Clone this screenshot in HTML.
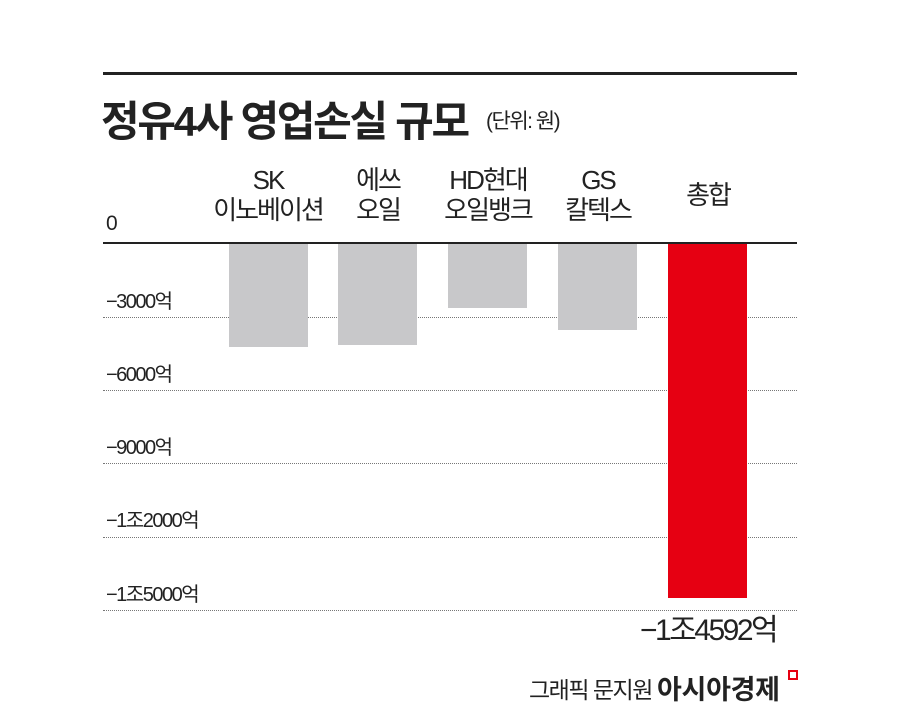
<!DOCTYPE html>
<html><head><meta charset="utf-8"><style>
body{margin:0;background:#fff;width:900px;height:720px;position:relative;overflow:hidden;font-family:"Liberation Sans","Noto Sans CJK KR",sans-serif;color:#222}
.a{position:absolute;white-space:nowrap}
.g{position:absolute;left:103px;width:694px;border-top:1px dotted #777;height:0}
.b{position:absolute;top:244px;width:79px;background:#c8c8ca}
.l{font-size:26px;letter-spacing:-2px;text-align:center;line-height:30px;width:160px}
.y{font-size:20px;letter-spacing:-1.5px;left:106px}
</style></head><body>
<div class="a" style="left:103px;top:72px;width:694px;height:3px;background:#222"></div>
<div class="a" style="left:101px;top:88px;font-size:42px;font-weight:bold;letter-spacing:-2.3px">정유4사 영업손실 규모</div>
<div class="a" style="left:486px;top:105px;font-size:21px;letter-spacing:-1.5px">(단위: 원)</div>
<div class="a l" style="left:188px;top:165px">SK<br>이노베이션</div>
<div class="a l" style="left:298px;top:165px">에쓰<br>오일</div>
<div class="a l" style="left:408px;top:165px">HD현대<br>오일뱅크</div>
<div class="a l" style="left:518px;top:165px">GS<br>칼텍스</div>
<div class="a l" style="left:628px;top:180px">총합</div>
<div class="a y" style="top:212px;font-size:21px">0</div>
<div class="a" style="left:103px;top:242px;width:694px;height:2px;background:#222"></div>
<div class="a y" style="top:285px">−3000억</div>
<div class="a y" style="top:358px">−6000억</div>
<div class="a y" style="top:431px">−9000억</div>
<div class="a y" style="top:504px">−1조2000억</div>
<div class="a y" style="top:578px">−1조5000억</div>
<div class="g" style="top:317px"></div>
<div class="g" style="top:390px"></div>
<div class="g" style="top:463px"></div>
<div class="g" style="top:537px"></div>
<div class="g" style="top:610px"></div>
<div class="b" style="left:229px;height:103px"></div>
<div class="b" style="left:338px;height:101px"></div>
<div class="b" style="left:448px;height:64px"></div>
<div class="b" style="left:558px;height:86px"></div>
<div class="b" style="left:668px;height:354px;background:#e60012"></div>
<div class="a" style="left:640px;top:605px;font-size:30px;letter-spacing:-2.5px">−1조4592억</div>
<div class="a" style="left:529px;top:671px;font-size:23px;letter-spacing:-1.5px">그래픽 문지원</div>
<div class="a" style="left:657px;top:668px;font-size:27px;font-weight:bold;letter-spacing:-0.3px">아시아경제</div>
<div class="a" style="left:788px;top:670px;width:6px;height:6px;border:2px solid #e60012"></div>
</body></html>
